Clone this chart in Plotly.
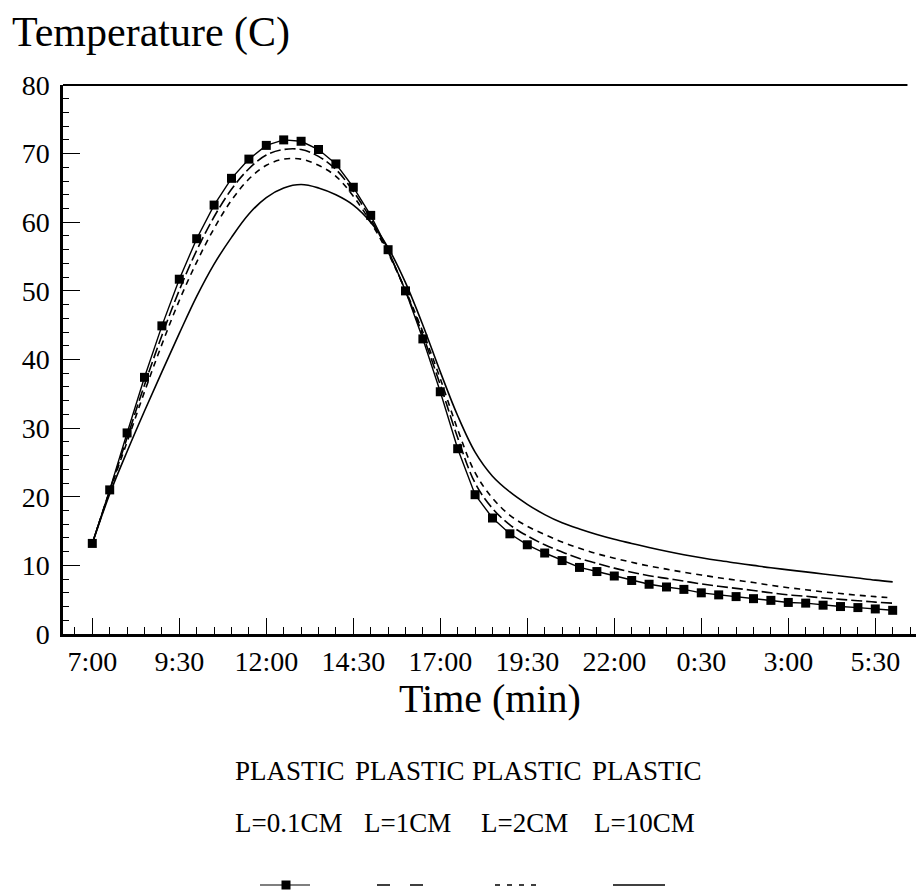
import plotly.graph_objects as go

# Sampling times: every 30 minutes from 7:00 to 6:00 the next morning,
# expressed as hours elapsed since 7:00.
hours = [i * 0.5 for i in range(47)]

# Temperature (C) for the four plastic layer thicknesses
temp_l01 = [13.2, 21.0, 29.3, 37.4, 44.9, 51.7, 57.6, 62.5, 66.4, 69.2,
            71.2, 72.0, 71.8, 70.6, 68.5, 65.1, 61.0, 56.0, 50.0, 43.0,
            35.3, 27.0, 20.3, 16.9, 14.6, 13.0, 11.8, 10.7, 9.7, 9.1,
            8.45, 7.8, 7.25, 6.85, 6.5, 6.0, 5.7, 5.45, 5.15, 4.9,
            4.6, 4.5, 4.2, 4.0, 3.85, 3.65, 3.45]
temp_l1 = [13.2, 20.9, 28.6, 36.3, 43.5, 50.1, 55.9, 60.8, 64.8, 67.8,
           69.8, 70.6, 70.6, 69.6, 67.7, 64.5, 60.5, 55.7, 50.0, 43.5,
           36.3, 28.6, 22.0, 18.3, 15.9, 14.3, 13.0, 11.95, 11.0, 10.3,
           9.6, 9.0, 8.5, 8.1, 7.7, 7.3, 6.95, 6.65, 6.35, 6.0,
           5.7, 5.5, 5.25, 5.05, 4.85, 4.65, 4.5]
temp_l2 = [13.2, 20.8, 28.0, 35.3, 42.2, 48.6, 54.2, 59.1, 63.2, 66.3,
           68.3, 69.2, 69.2, 68.3, 66.7, 63.8, 60.0, 55.5, 50.1, 44.0,
           37.2, 29.8, 23.5, 19.8, 17.3, 15.7, 14.5, 13.4, 12.5, 11.7,
           11.05, 10.45, 9.9, 9.45, 9.0, 8.6, 8.2, 7.85, 7.5, 7.1,
           6.75, 6.45, 6.15, 5.9, 5.65, 5.45, 5.25]
temp_l10 = [13.2, 20.4, 26.6, 32.5, 38.2, 43.8, 49.2, 53.9, 57.8, 61.2,
            63.6, 65.0, 65.5, 65.0, 64.0, 62.5, 60.0, 56.3, 51.2, 45.0,
            38.2, 31.8, 26.5, 23.0, 20.7, 18.9, 17.4, 16.2, 15.3, 14.5,
            13.8, 13.2, 12.6, 12.05, 11.55, 11.1, 10.7, 10.35, 10.0, 9.65,
            9.35, 9.05, 8.75, 8.45, 8.15, 7.85, 7.6]

tick_hours = [0, 2.5, 5, 7.5, 10, 12.5, 15, 17.5, 20, 22.5]
tick_text = ["7:00", "9:30", "12:00", "14:30", "17:00", "19:30",
             "22:00", "0:30", "3:00", "5:30"]

legend_top = ["PLASTIC", "PLASTIC", "PLASTIC", "PLASTIC"]
legend_bottom = ["L=0.1CM", "L=1CM", "L=2CM", "L=10CM"]

FONT = "Liberation Serif, Times New Roman, serif"
W, H = 916, 893
ML, MR, MT, MB = 63, 0, 85, 259

fig = go.Figure()

fig.add_trace(go.Scatter(x=hours, y=temp_l10, mode="lines",
                         line=dict(color="black", width=1.6),
                         line_shape="spline", showlegend=False))
fig.add_trace(go.Scatter(x=hours, y=temp_l2, mode="lines",
                         line=dict(color="black", width=1.6, dash="6px,5px"),
                         line_shape="spline", showlegend=False))
fig.add_trace(go.Scatter(x=hours, y=temp_l1, mode="lines",
                         line=dict(color="black", width=1.6, dash="11px,4px"),
                         line_shape="spline", showlegend=False))
fig.add_trace(go.Scatter(x=hours, y=temp_l01, mode="lines+markers",
                         line=dict(color="black", width=1.4),
                         marker=dict(symbol="square", size=9, color="black"),
                         showlegend=False))

pw = W - ML - MR
ph = H - MT - MB


def px_to_paper(px, py):
    return (px - ML) / pw, (H - MB - py) / ph


shapes = []
annotations = []

# top frame line
shapes.append(dict(type="line", xref="paper", yref="paper", x0=0, x1=0.99,
                   y0=1, y1=1, line=dict(color="black", width=2)))

# legend text rows
col_left = [233, 353, 470, 590]
label_left = [233, 362, 479, 592]
for i in range(4):
    x0, y0 = px_to_paper(col_left[i], 771)
    annotations.append(dict(text=legend_top[i], x=x0, y=y0, xref="paper", yref="paper",
                            xanchor="left", yanchor="middle", showarrow=False,
                            font=dict(family=FONT, size=27, color="black")))
    x1, y1 = px_to_paper(label_left[i], 823)
    annotations.append(dict(text=legend_bottom[i], x=x1, y=y1, xref="paper", yref="paper",
                            xanchor="left", yanchor="middle", showarrow=False,
                            font=dict(family=FONT, size=27, color="black")))

# legend line samples
sample_specs = [
    (260, 310, "solid", 1.2),
    (377, 428, "13px,20px", 1.5),
    (495, 541, "5px,7px", 1.5),
    (613, 665, "solid", 1.5),
]
for sx0, sx1, dash, lw in sample_specs:
    a0, b0 = px_to_paper(sx0, 885)
    a1, _ = px_to_paper(sx1, 885)
    shapes.append(dict(type="line", xref="paper", yref="paper", x0=a0, x1=a1,
                       y0=b0, y1=b0, line=dict(color="black", width=lw, dash=dash)))
mx0, my0 = px_to_paper(281.5, 880.5)
mx1, my1 = px_to_paper(290.5, 889.5)
shapes.append(dict(type="rect", xref="paper", yref="paper", x0=mx0, x1=mx1,
                   y0=my0, y1=my1, fillcolor="black", line=dict(width=0)))

# axis titles
tx, ty = px_to_paper(10, 32)
annotations.append(dict(text="Temperature (C)", x=tx, y=ty, xref="paper", yref="paper",
                        xanchor="left", yanchor="middle", showarrow=False,
                        font=dict(family=FONT, size=42, color="black")))
ax, ay = px_to_paper(490, 698)
annotations.append(dict(text="Time (min)", x=ax, y=ay, xref="paper", yref="paper",
                        xanchor="center", yanchor="middle", showarrow=False,
                        font=dict(family=FONT, size=40, color="black")))

fig.update_layout(
    width=W, height=H,
    margin=dict(l=ML, r=MR, t=MT, b=MB, pad=0),
    paper_bgcolor="white", plot_bgcolor="white",
    shapes=shapes, annotations=annotations,
    font=dict(family=FONT, color="black"),
    xaxis=dict(
        range=[-0.842, 23.67], showgrid=False, zeroline=False,
        showline=True, linecolor="black", linewidth=2.5,
        tickmode="array", tickvals=tick_hours, ticktext=tick_text,
        ticks="inside", ticklen=16, tickwidth=1.3, tickcolor="black",
        ticklabelstandoff=1,
        tickfont=dict(family=FONT, size=28, color="black"),
        minor=dict(tick0=0, dtick=0.5, ticks="inside", ticklen=7,
                   tickwidth=1.2, tickcolor="black", showgrid=False),
    ),
    yaxis=dict(
        range=[0, 80], showgrid=False, zeroline=False,
        showline=True, linecolor="black", linewidth=2.5,
        tickmode="linear", tick0=0, dtick=10,
        ticks="inside", ticklen=17, tickwidth=1.3, tickcolor="black",
        ticklabelstandoff=5,
        tickfont=dict(family=FONT, size=28, color="black"),
        minor=dict(tick0=0, dtick=2, ticks="inside", ticklen=6,
                   tickwidth=1.2, tickcolor="black", showgrid=False),
    ),
)

fig.write_html("out.html")
